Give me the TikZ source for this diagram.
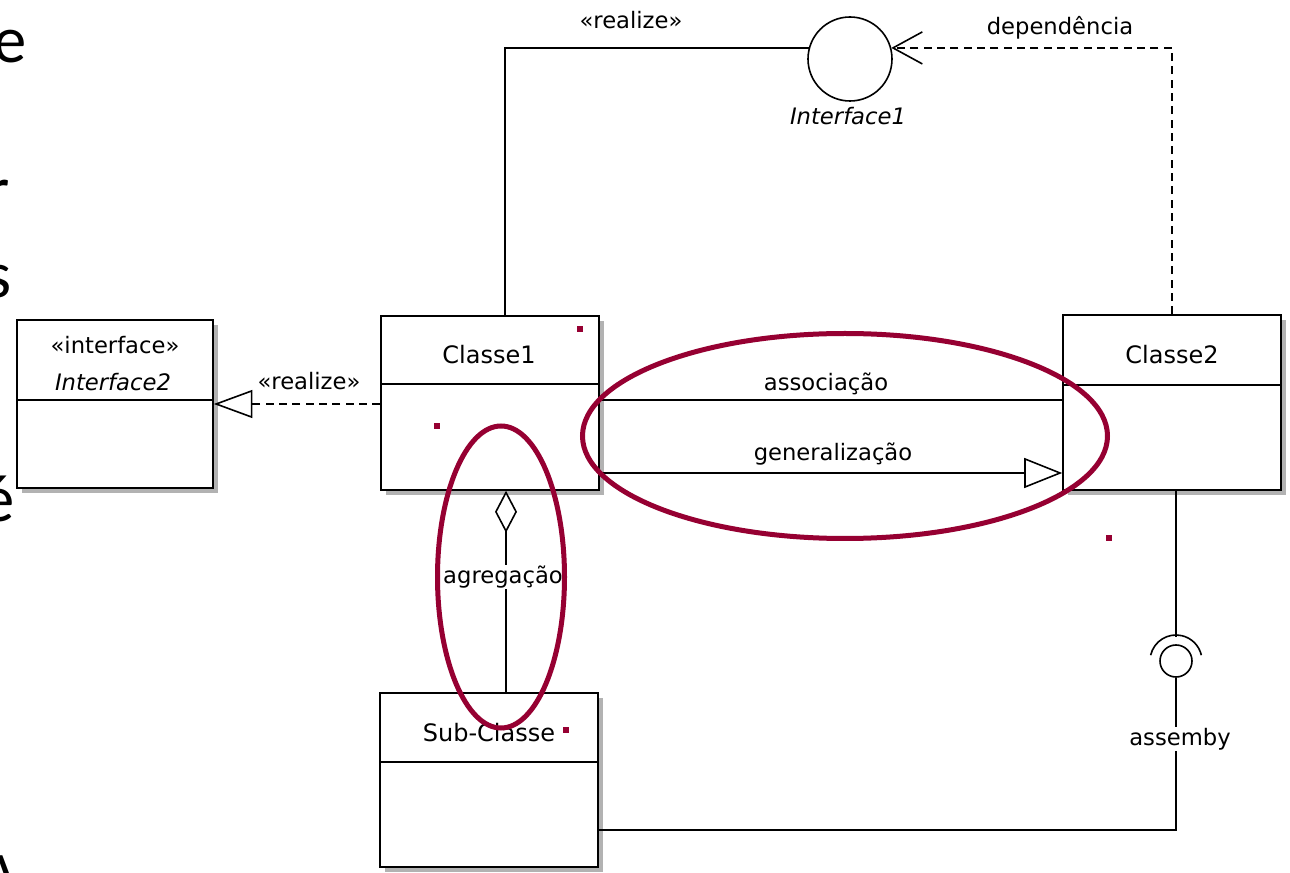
\documentclass[tikz,border=0pt]{standalone}
\usepackage{fontspec}
\setmainfont{DejaVu Sans}
\newfontfamily\slidefont{Carlito}
\usepackage{tikz}
\usetikzlibrary{arrows.meta}
\usetikzlibrary{shadows}
\usetikzlibrary{shapes.geometric}
\usetikzlibrary{positioning}
\definecolor{marca}{RGB}{150,0,50}

\begin{document}
\begin{tikzpicture}[x=0.75pt,y=-0.75pt,
umlline/.style={line width=1.2pt},
classbox/.style={draw,line width=1.2pt,fill=white,inner sep=0pt,
  copy shadow={shadow xshift=4pt,shadow yshift=-4pt,draw=none,fill=black!30}},
namefont/.style={font=\fontsize{18}{20}\selectfont},
rotulo/.style={font=\fontsize{17}{19}\selectfont,inner sep=1pt},
letra/.style={font=\slidefont\fontsize{50}{60}\selectfont,anchor=base east,inner sep=0pt},
destaque/.style={draw=marca,ellipse,line width=3.75pt,inner sep=0pt}]
\useasboundingbox[fill=white] (0,0) rectangle (1290,873);

\node[letra] (l1) at (27,63) {e};
\node[letra] (l2) at (10,213) {r};
\node[letra] (l3) at (12,298) {s};
\node[letra] (l4) at (15,522) {é};
\node[letra] (l5) at (19,898) {A};

\node[classbox,minimum width=147pt,minimum height=126pt] (interface2) at (115,404) {};
\node[classbox,minimum width=163.5pt,minimum height=130.5pt] (classe1) at (490,403) {};
\node[classbox,minimum width=163.5pt,minimum height=131.25pt] (classe2) at (1172,402.5) {};
\node[classbox,minimum width=163.5pt,minimum height=130.5pt] (subclasse) at (489,780) {};
\draw[umlline] (interface2.west |- 0,400) -- (interface2.east |- 0,400);
\draw[umlline] (classe1.west |- 0,384) -- (classe1.east |- 0,384);
\draw[umlline] (classe2.west |- 0,385) -- (classe2.east |- 0,385);
\draw[umlline] (subclasse.west |- 0,762) -- (subclasse.east |- 0,762);

\node[namefont,font=\fontsize{17}{19}\selectfont] (i2stereo) at (115,345) {«interface»};
\node[namefont,font=\fontsize{17}{19}\selectfont\itshape] (i2name) at (113,382) {Interface2};
\node[namefont] (c1name) at (489,355) {Classe1};
\node[namefont] (c2name) at (1172,355) {Classe2};
\node[namefont] (subname) at (489,733) {Sub-Classe};

\node[circle,draw,line width=1.2pt,minimum size=63pt,inner sep=0pt] (interface1) at (850,59) {};
\node[font=\fontsize{17}{19}\selectfont\itshape] (i1name) at (848,116) {Interface1};
\draw[umlline] (classe1.north -| 505,0) |- (interface1.165);
\node[rotulo] (realize1) at (631,20) {«realize»};
\draw[umlline,dashed,dash pattern=on 6pt off 4pt,
  -{Straight Barb[length=22pt,width=24pt,line width=1.2pt]}] (classe2.north -| 1172,0) |- (interface1.15);
\node[rotulo] (dep) at (1060,28) {dependência};

\draw[umlline,dashed,dash pattern=on 6pt off 4pt,
  -{Triangle[open,length=29pt,width=21pt,line width=1.2pt]}] (classe1.west |- 0,404) -- (interface2.east |- 0,404);
\node[rotulo] (realize2) at (309,381) {«realize»};

\draw[umlline] (classe1.east |- 0,400) -- (classe2.west |- 0,400);
\node[rotulo] (assoc) at (826,384) {associação};
\draw[umlline,-{Triangle[open,length=28.5pt,width=22.5pt,line width=1.2pt]}] (classe1.east |- 0,473) -- (classe2.west |- 0,473);
\node[rotulo] (gener) at (833,454) {generalização};

\draw[umlline,{Diamond[open,length=31.5pt,width=16.5pt,line width=1.2pt]}-] (classe1.south -| 506,0) -- (subclasse.north -| 506,0);
\node[rotulo,fill=white] (agreg) at (503,577) {agregação};

\node[circle,draw,line width=1.2pt,minimum size=24pt,inner sep=0pt] (bola) at (1176,661) {};
\coordinate (encaixe) at (1176,637);
\coordinate (canto) at (1176,830);
\draw[umlline] (classe2.south -| 1176,0) -- (encaixe);
\draw[umlline] ([shift={(167:19.5pt)}]bola.center) arc[start angle=167,end angle=13,radius=19.5pt];
\draw[umlline] (bola.south) -- (canto) -- (subclasse.east |- canto);
\node[rotulo,fill=white] (assem) at (1180,739) {assemby};

\node[destaque,minimum width=393.75pt,minimum height=153.75pt] (destaque1) at (845,436) {};
\node[destaque,minimum width=95.25pt,minimum height=226.5pt] (destaque2) at (501,577) {};
\foreach \p/\q in {580/329,437/426,1109/538,566/730}
  \node[fill=marca,minimum size=5pt,inner sep=0pt] (ponto-\p) at (\p,\q) {};
\end{tikzpicture}
\end{document}
